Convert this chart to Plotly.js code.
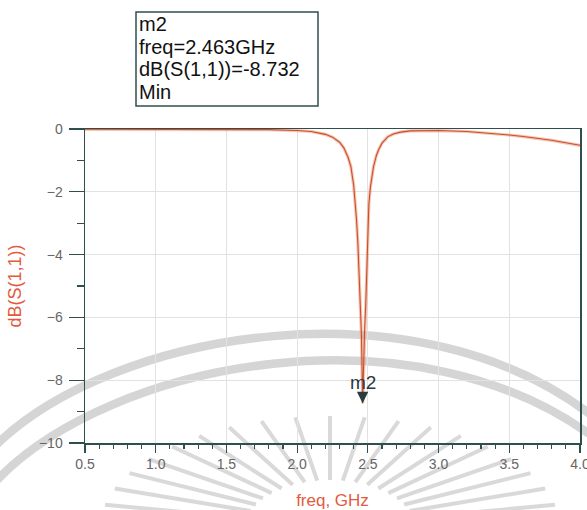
<!DOCTYPE html>
<html><head><meta charset="utf-8">
<script src="https://cdn.plot.ly/plotly-3.0.1.min.js"></script>
<style>
html,body{margin:0;padding:0;background:#fff}#chart{width:587px;height:510px}
</style>
</head><body><div id="chart"></div>
<script>
// ---- data ----
const freq  = [0.5, 1.0, 1.5, 1.8, 2.0, 2.1, 2.2, 2.25, 2.3, 2.33, 2.36, 2.38, 2.40, 2.41, 2.42, 2.43, 2.44, 2.448, 2.455, 2.463, 2.47, 2.477, 2.485, 2.49, 2.50, 2.507, 2.518, 2.54, 2.56, 2.575, 2.60, 2.64, 2.68, 2.73, 2.8, 2.9, 3.0, 3.2, 3.4, 3.5, 3.6, 3.8, 4.0];
const s11dB = [-0.01, -0.01, -0.01, -0.02, -0.05, -0.08, -0.17, -0.26, -0.42, -0.6, -0.9, -1.2, -1.8, -2.3, -2.9, -3.7, -4.7, -5.4, -6.6, -8.732, -7.4, -6.4, -5.6, -5.0, -3.3, -2.4, -1.85, -1.2, -0.85, -0.67, -0.45, -0.25, -0.16, -0.1, -0.06, -0.05, -0.05, -0.08, -0.14, -0.19, -0.24, -0.36, -0.52];
const markerName  = 'm2';
const markerFreq  = 2.463;
const markerValue = -8.732;
const markerMode  = 'Min';
const xTickVals = [0.5, 1.0, 1.5, 2.0, 2.5, 3.0, 3.5, 4.0];
const yTickVals = [0, -2, -4, -6, -8, -10];

// ---- layout constants ----
const W = 587, H = 510;
const M = {l: 85, r: 7, t: 129, b: 67};
const PW = W - M.l - M.r, PH = H - M.t - M.b;
const px = x => (x - M.l) / PW;          // pixel -> paper x
const py = y => (H - M.b - y) / PH;      // pixel -> paper y

const FONT = 'Liberation Sans, Arial, sans-serif';
const AX = '#2f4f4f';
const RED = '#e35a3d';

// ---- decorative watermark (grey arcs and rays) ----
const wm = 'rgba(150,150,150,0.40)';
function P(x, y) { return px(x).toFixed(4) + ',' + py(y).toFixed(4); }
const shapes = [];
shapes.push({type: 'path', xref: 'paper', yref: 'paper', layer: 'below',
  path: 'M' + P(-5, 446) + ' C' + P(110, 332) + ' ' + P(420, 275) + ' ' + P(600, 422),
  line: {color: wm, width: 8.5}});
shapes.push({type: 'path', xref: 'paper', yref: 'paper', layer: 'below',
  path: 'M' + P(-5, 482) + ' C' + P(110, 360) + ' ' + P(420, 302) + ' ' + P(600, 442),
  line: {color: wm, width: 8.5}});
const cx = 330, cy = 528;
for (let i = 0; i < 19; i++) {
  const a = (12 + i * (156 / 18)) * Math.PI / 180;
  const c = Math.cos(a), s = Math.sin(a);
  shapes.push({type: 'path', xref: 'paper', yref: 'paper', layer: 'below',
    path: 'M' + P(cx + 85 * c, cy - 48 * s) + ' L' + P(cx + 230 * c, cy - 112 * s),
    line: {color: 'rgba(150,150,150,0.36)', width: 4}});
}
// marker read-out box
shapes.push({type: 'rect', xref: 'paper', yref: 'paper', layer: 'above',
  x0: px(136), x1: px(318), y0: py(12), y1: py(106),
  line: {color: AX, width: 1.5}, fillcolor: 'rgba(0,0,0,0)'});

const boxLines = [markerName, 'freq=' + markerFreq.toFixed(3) + 'GHz',
  'dB(S(1,1))=' + markerValue.toFixed(3), markerMode];
const lineY = [24, 46.5, 69, 91.5];
const annotations = boxLines.map((t, i) => ({
  xref: 'paper', yref: 'paper', x: px(137), y: py(lineY[i]),
  xanchor: 'left', yanchor: 'middle', showarrow: false, text: t,
  font: {family: FONT, size: 20, color: '#111'}
}));
annotations.push({
  x: markerFreq, y: markerValue, xref: 'x', yref: 'y', text: markerName,
  showarrow: true, arrowhead: 2, arrowsize: 1.9, arrowwidth: 1.2, arrowcolor: '#2b3a3a',
  ax: 0, ay: -21, standoff: 0,
  font: {family: FONT, size: 19, color: '#2b3a3a'}
});

const traces = [
  {x: freq, y: s11dB, type: 'scatter', mode: 'lines', hoverinfo: 'skip',
   line: {color: 'rgba(236,150,120,0.55)', width: 3.2}},
  {x: freq, y: s11dB, type: 'scatter', mode: 'lines',
   line: {color: '#c9502c', width: 1.1}}
];

const layout = {
  width: W, height: H, margin: M,
  paper_bgcolor: '#ffffff', plot_bgcolor: 'rgba(0,0,0,0)',
  showlegend: false,
  font: {family: FONT},
  xaxis: {
    range: [0.5, 4.0], tickvals: xTickVals, ticktext: xTickVals.map(v => v.toFixed(1)),
    ticklabeloverflow: 'allow',
    showline: true, linecolor: AX, linewidth: 1.5, mirror: true,
    ticks: 'outside', ticklen: 8, tickwidth: 1.2, tickcolor: AX,
    minor: {dtick: 0.1, tick0: 0.5, ticks: 'outside', ticklen: 4, tickcolor: AX, showgrid: false},
    showgrid: true, gridcolor: '#e2e2e2', gridwidth: 1, zeroline: false,
    tickfont: {family: FONT, size: 14, color: '#666'},
    title: {text: 'freq, GHz', font: {family: FONT, size: 17, color: RED}, standoff: 27}
  },
  yaxis: {
    range: [-10, 0], tickvals: yTickVals, ticklabelstandoff: 3,
    showline: true, linecolor: AX, linewidth: 1.5, mirror: true,
    ticks: 'outside', ticklen: 15, tickwidth: 1.2, tickcolor: AX,
    minor: {dtick: 1, tick0: 0, ticks: 'outside', ticklen: 7, tickcolor: AX, showgrid: false},
    showgrid: true, gridcolor: '#e2e2e2', gridwidth: 1, zeroline: false,
    tickfont: {family: FONT, size: 14, color: '#666'},
    title: {text: 'dB(S(1,1))', font: {family: FONT, size: 18, color: RED}, standoff: 12}
  },
  shapes: shapes,
  annotations: annotations
};

Plotly.newPlot('chart', traces, layout, {displayModeBar: false, staticPlot: true});
</script>
</body></html>
